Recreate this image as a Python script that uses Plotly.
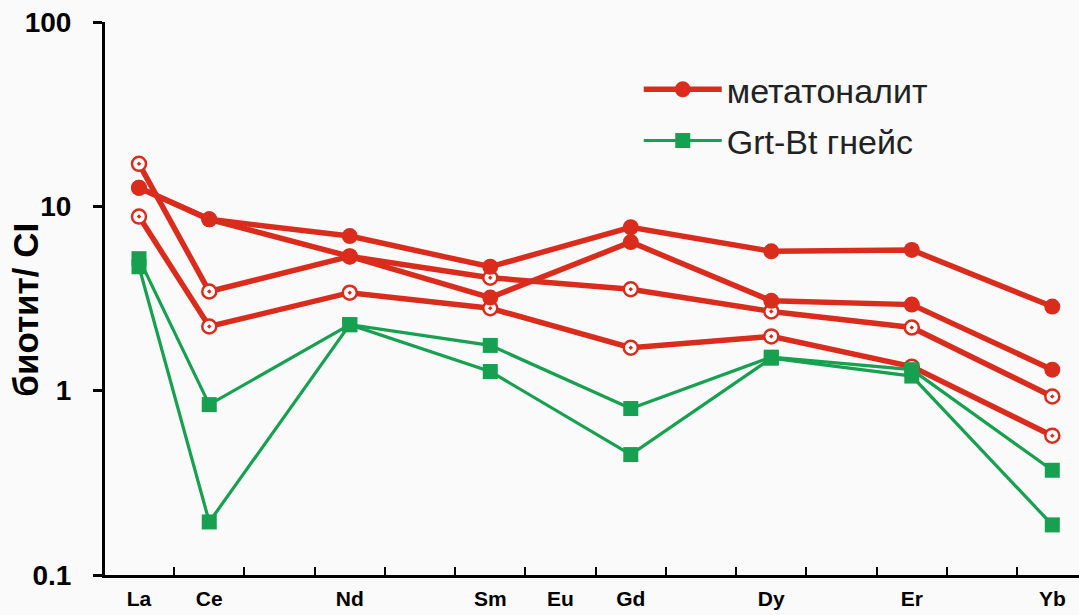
import plotly.graph_objects as go

# REE categories (full series so that spacing matches), labels shown on axis
elements = ["La", "Ce", "Pr", "Nd", "Pm", "Sm", "Eu", "Gd", "Tb", "Dy", "Ho", "Er", "Tm", "Yb"]
shown_labels = ["La", "Ce", "", "Nd", "", "Sm", "Eu", "Gd", "", "Dy", "", "Er", "", "Yb"]

# measured elements
measured = ["La", "Ce", "Nd", "Sm", "Gd", "Dy", "Er", "Yb"]

# метатоналит (filled-circle samples)
meta_a = [12.6, 8.5, 6.9, 4.7, 7.7, 5.7, 5.8, 2.86]
meta_b = [12.6, 8.5, 5.35, 3.2, 6.4, 3.07, 2.93, 1.30]
# метатоналит (open-circle samples)
meta_c = [17.0, 3.45, 5.35, 4.1, 3.55, 2.69, 2.2, 0.93]
meta_d = [8.8, 2.23, 3.4, 2.8, 1.71, 1.97, 1.35, 0.57]

# Grt-Bt гнейс
gneiss_1 = [5.2, 0.84, 2.28, 1.76, 0.80, 1.52, 1.30, 0.37]
gneiss_2 = [4.7, 0.194, 2.28, 1.27, 0.45, 1.50, 1.20, 0.187]

RED = "#DA2C1D"
GREEN = "#16A04F"
BG = "#FAFAFA"

fig = go.Figure()

for vals in (meta_c, meta_d):
    fig.add_trace(go.Scatter(
        x=measured, y=vals, mode="lines+markers",
        line=dict(color=RED, width=5.5),
        marker=dict(symbol="circle-dot", size=14, color="white",
                    line=dict(color=RED, width=2.5)),
        legendgroup="meta", showlegend=False,
    ))

for i, vals in enumerate((meta_a, meta_b)):
    fig.add_trace(go.Scatter(
        x=measured, y=vals, mode="lines+markers",
        name="метатоналит",
        line=dict(color=RED, width=5.5),
        marker=dict(symbol="circle", size=16, color=RED),
        legendgroup="meta", showlegend=(i == 0),
    ))

for i, vals in enumerate((gneiss_1, gneiss_2)):
    fig.add_trace(go.Scatter(
        x=measured, y=vals, mode="lines+markers",
        name="Grt-Bt гнейс",
        line=dict(color=GREEN, width=3.2),
        marker=dict(symbol="square", size=15, color=GREEN),
        legendgroup="gneiss", showlegend=(i == 0),
    ))

bold = dict(family="Liberation Sans, Arial, sans-serif", color="black", weight="bold")

fig.update_layout(
    width=1079, height=615,
    margin=dict(l=105, r=0, t=22, b=40),
    paper_bgcolor=BG, plot_bgcolor=BG,
    xaxis=dict(
        type="category", categoryorder="array", categoryarray=elements,
        range=[-0.484, 13.38], automargin=False,
        tickvals=elements, ticktext=shown_labels,
        tickson="boundaries", ticks="inside", ticklen=8, tickwidth=2, tickcolor="black",
        showline=True, linewidth=3, linecolor="black",
        showgrid=False, zeroline=False,
        tickfont=dict(size=21, **bold),
        ticklabelstandoff=3,
    ),
    yaxis=dict(
        type="log", range=[-1, 2], automargin=False,
        tickvals=[0.1, 1, 10, 100], ticktext=["0.1", "1", "10", "100"],
        ticks="outside", ticklen=9, tickwidth=3, tickcolor="black",
        showline=True, linewidth=3, linecolor="black",
        showgrid=False, zeroline=False,
        tickfont=dict(size=28, **bold),
        ticklabelstandoff=16,
    ),
    legend=dict(
        x=0.548, y=0.93, xanchor="left", yanchor="top",
        bgcolor="rgba(0,0,0,0)",
        font=dict(family="Liberation Sans, Arial, sans-serif", size=34, color="#222222"),
        itemwidth=78, tracegroupgap=4,
    ),
    annotations=[dict(
        text="биотит/ CI", xref="paper", yref="paper",
        x=-0.082, y=0.48, xanchor="center", yanchor="middle",
        textangle=-90, showarrow=False,
        font=dict(size=35, **bold),
    )],
)

fig.write_html("out.html")
